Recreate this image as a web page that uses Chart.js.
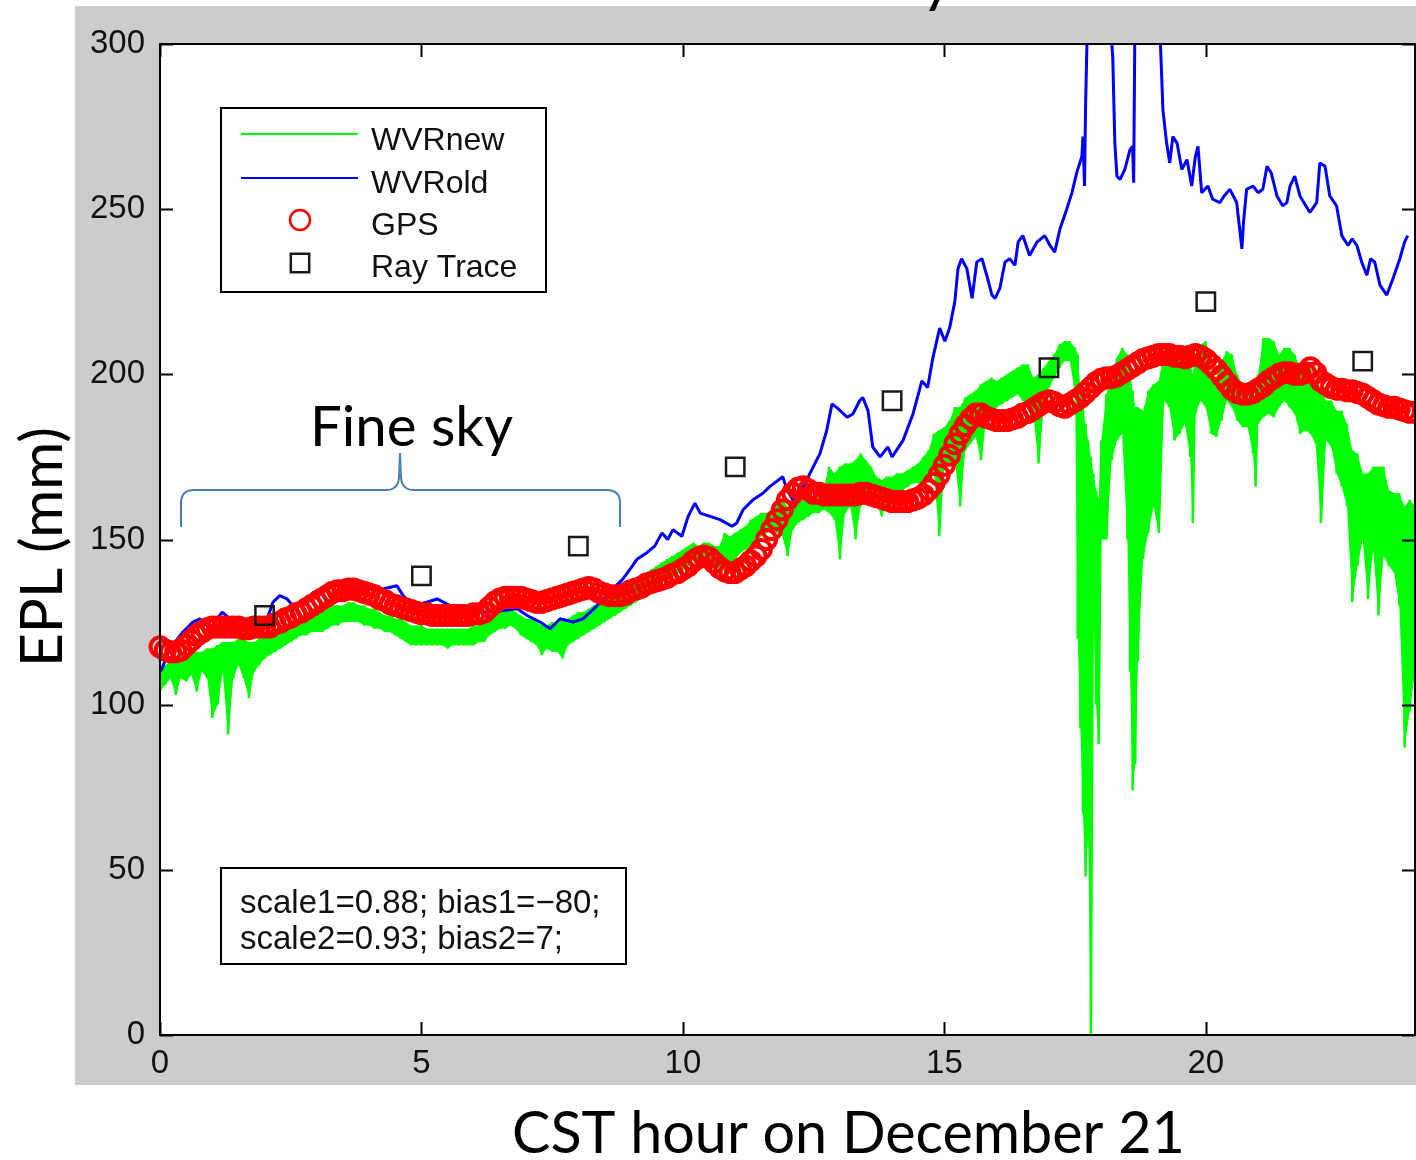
<!DOCTYPE html>
<html>
<head>
<meta charset="utf-8">
<script src="https://cdn.jsdelivr.net/npm/chart.js@4.4.1/dist/chart.umd.min.js"></script>
<style>
html,body{margin:0;padding:0;background:#fff;}
#wrap{width:1416px;height:1160px;position:relative;overflow:hidden;}
canvas{display:block;}
</style>
</head>
<body>
<div id="wrap"><canvas id="c" width="1416" height="1160"></canvas></div>
<script>
// ---------- data ----------
const xTickValues = [0, 5, 10, 15, 20];
const yTickValues = [0, 50, 100, 150, 200, 250, 300];
const seriesNames = ['WVRnew', 'WVRold', 'GPS', 'Ray Trace'];
const xAxisTitle = 'CST hour on December 21';
const yAxisTitle = 'EPL (mm)';
const noteLines = ['scale1=0.88; bias1=\u221280;', 'scale2=0.93; bias2=7;'];
const annotationText = 'Fine sky';

// Ray trace points [hour, EPL]
const rayTrace = [[2,127],[5,139],[8,148],[11,172],[14,192],[17,202],[20,222],[23,204]];

// GPS points [hour, EPL]
const gps = [
[0,117.5],[0.1,116.5],[0.2,116],[0.3,116],[0.4,116.5],[0.5,118],[0.6,119.5],[0.7,121],[0.8,122],[0.9,123],
[1,123.5],[1.1,123.5],[1.2,123.5],[1.3,123.5],[1.4,123.5],[1.5,123.5],[1.6,123],[1.7,123],[1.8,123.5],[1.9,123.5],
[2,123.5],[2.1,123.5],[2.2,124.5],[2.3,125],[2.4,126],[2.5,126.5],[2.6,127.5],[2.7,128],[2.8,129],[2.9,130],
[3,131],[3.1,132],[3.2,133],[3.3,134],[3.4,134.5],[3.5,134.5],[3.6,135],[3.7,135],[3.8,134.5],[3.9,134],
[4,133.5],[4.1,133],[4.2,132],[4.3,131.5],[4.4,130.5],[4.5,130],[4.6,129.5],[4.7,129],[4.8,128.5],[4.9,128],
[5,127.5],[5.1,127.5],[5.2,127],[5.3,127],[5.4,127],[5.5,127],[5.6,127],[5.7,127],[5.8,127],[5.9,127],
[6,127.5],[6.1,127.5],[6.2,128],[6.3,129.5],[6.4,131],[6.5,132],[6.6,132.5],[6.7,132.5],[6.8,132.5],[6.9,132.5],
[7,132],[7.1,131.5],[7.2,131],[7.3,131],[7.4,131.5],[7.5,132],[7.6,132.5],[7.7,133],[7.8,133.5],[7.9,134],
[8,134.5],[8.1,135],[8.2,135.5],[8.3,135],[8.4,134],[8.5,133.5],[8.6,133],[8.7,133],[8.8,133],[8.9,133.5],
[9,134.5],[9.1,135],[9.2,135.5],[9.3,136.5],[9.4,137],[9.5,137.5],[9.6,138],[9.7,138.5],[9.8,139.5],[9.9,140],
[10,141],[10.1,142],[10.2,143.5],[10.3,144.5],[10.4,145],[10.5,144.5],[10.6,143],[10.7,141.5],[10.8,140.5],[10.9,140],
[11,140],[11.1,141],[11.2,142],[11.3,143.5],[11.4,145],[11.5,147],[11.6,150],[11.7,153],[11.8,156],[11.9,159],
[12,162],[12.1,164],[12.2,165.5],[12.3,166],[12.4,165],[12.5,164],[12.6,164],[12.7,163.5],[12.8,163.5],[12.9,163.5],
[13,163.5],[13.1,163.5],[13.2,163.5],[13.3,163.5],[13.4,164],[13.5,164],[13.6,163.5],[13.7,163],[13.8,162.5],[13.9,162],
[14,161.5],[14.1,161.5],[14.2,161.5],[14.3,161.5],[14.4,162],[14.5,162.5],[14.6,163.5],[14.7,165],[14.8,167],[14.9,169.5],
[15,172.5],[15.1,175.5],[15.2,179],[15.3,182],[15.4,184.5],[15.5,186.5],[15.6,188],[15.7,188],[15.8,187],[15.9,186.5],
[16,186],[16.1,186],[16.2,186],[16.3,186.5],[16.4,187],[16.5,188],[16.6,188.5],[16.7,189.5],[16.8,190.5],[16.9,191.5],
[17,192],[17.1,191.5],[17.2,190.5],[17.3,190],[17.4,191],[17.5,192],[17.6,193],[17.7,194.5],[17.8,196],[17.9,197.5],
[18,198.5],[18.1,199],[18.2,199],[18.3,199.5],[18.4,200.5],[18.5,201.5],[18.6,202.5],[18.7,203.5],[18.8,204.5],[18.9,205],
[19,205.5],[19.1,206],[19.2,206],[19.3,206],[19.4,205.5],[19.5,205.5],[19.6,205],[19.7,205.5],[19.8,206],[19.9,205.5],
[20,204.5],[20.1,203],[20.2,201.5],[20.3,199.5],[20.4,197.5],[20.5,195.5],[20.6,194.5],[20.7,194],[20.8,194],[20.9,194.5],
[21,195.5],[21.1,196.5],[21.2,198],[21.3,199],[21.4,200],[21.5,200.5],[21.6,200.5],[21.7,200],[21.8,200],[21.9,200.5],
[22,202],[22.1,200.5],[22.2,198],[22.3,197],[22.4,196],[22.5,195.5],[22.6,195.5],[22.7,195],[22.8,195],[22.9,194.5],
[23,194],[23.1,193],[23.2,192],[23.3,191],[23.4,190.5],[23.5,190],[23.6,190],[23.7,189.5],[23.8,189],[23.9,188.5],[24,188.5]
];

// WVRold trace vertices [hour, EPL]
const wvrOld = [
[0,110],[0.04,111],[0.19,117],[0.44,122],[0.63,125],[0.76,126],[0.96,123],[1.19,128],[1.34,126],[1.47,123],
[1.66,123],[1.85,125],[2.05,126],[2.16,131],[2.29,133],[2.43,132],[2.54,130],[2.73,130],[2.93,134],[3.12,135],
[3.29,136],[3.6,136],[3.9,135],[4.26,135],[4.53,136],[4.65,133],[4.84,130],[5.1,131],[5.3,132],[5.55,130],
[5.9,128],[6.3,128],[6.83,129],[7.02,127],[7.27,125],[7.46,123],[7.65,126],[7.9,125],[8.09,126],[8.36,130],
[8.6,134],[8.85,138],[8.99,141],[9.12,144],[9.31,146],[9.46,148],[9.6,152],[9.71,150],[9.81,153],[9.98,151],
[10.1,157],[10.23,161],[10.33,158],[10.52,157],[10.71,156],[10.94,154],[11.03,155],[11.15,159],[11.34,162],[11.53,164],
[11.66,166],[11.91,169],[11.99,165],[12.1,162],[12.24,164],[12.43,170],[12.62,176],[12.75,183],[12.85,191],[12.94,190],
[13.14,187],[13.25,188],[13.38,192],[13.44,193],[13.54,189],[13.63,178],[13.77,175],[13.92,178],[14,175],[14.21,180],
[14.4,188],[14.57,198],[14.68,196],[14.78,205],[14.91,214],[15.01,210],[15.1,214],[15.2,222],[15.26,232],[15.33,235],
[15.43,232],[15.53,223],[15.62,234],[15.72,235],[15.81,230],[15.91,224],[15.97,223],[16.06,226],[16.16,234],[16.25,235],
[16.35,233],[16.41,240],[16.5,242],[16.63,236],[16.77,240],[16.92,242],[17.02,239],[17.11,237],[17.21,244],[17.34,250],
[17.44,255],[17.53,261],[17.63,266],[17.65,272],[17.68,257],[17.7,281],[17.74,310],[17.9,330],[18.05,330],[18.16,310],
[18.22,296],[18.26,270],[18.3,260],[18.36,259],[18.45,262],[18.55,268],[18.6,269],[18.62,258],[18.65,320],[18.8,330],
[19,330],[19.12,305],[19.18,280],[19.25,270],[19.31,264],[19.37,272],[19.45,270],[19.54,262],[19.64,265],[19.73,257],
[19.8,266],[19.85,269],[19.92,255],[20.04,257],[20.13,253],[20.27,252],[20.35,254],[20.46,256],[20.59,252],[20.69,238],
[20.72,246],[20.78,256],[20.9,257],[21,255],[21.09,256],[21.17,263],[21.25,261],[21.36,254],[21.47,251],[21.55,252],
[21.61,257],[21.7,260],[21.8,254],[21.99,249],[22.12,252],[22.18,264],[22.28,263],[22.37,254],[22.5,251],[22.6,242],
[22.72,239],[22.8,241],[22.89,239],[22.98,234],[23.08,230],[23.15,235],[23.23,234],[23.33,227],[23.46,224],[23.58,229],
[23.71,235],[23.8,240],[23.86,242]
];

// WVRnew noisy trace, read as [hour, highest EPL, lowest EPL] in each short interval
const wvrNew = [
[0,111,104],[0.1,112,106],[0.2,113,108],[0.3,114,103],[0.4,114,108],[0.5,115,107],[0.6,115,109],[0.7,116,104],[0.8,116,110],[0.9,117,108],
[1,117,96],[1.1,118,100],[1.2,119,110],[1.3,119,91],[1.4,119,108],[1.5,120,112],[1.6,120,108],[1.7,119,102],[1.8,119,110],[1.9,120,112],
[2,121,114],[2.1,122,115],[2.2,123,116],[2.3,123,117],[2.4,124,118],[2.5,125,119],[2.6,125,120],[2.7,126,121],[2.8,127,121],[2.9,127,122],
[3,128,122],[3.1,129,122],[3.2,129,123],[3.3,130,124],[3.4,130,124],[3.5,130,125],[3.6,131,125],[3.7,131,125],[3.8,130,125],[3.9,130,124],
[4,129,124],[4.1,129,123],[4.2,128,123],[4.3,127,122],[4.4,127,122],[4.5,126,121],[4.6,126,120],[4.7,125,119],[4.8,124,118],[4.9,124,118],
[5,124,118],[5.1,123,118],[5.2,123,118],[5.3,123,118],[5.4,123,118],[5.5,123,117],[5.6,123,118],[5.7,123,118],[5.8,123,118],[5.9,123,118],
[6,124,118],[6.1,124,119],[6.2,125,119],[6.3,126,121],[6.4,128,122],[6.5,128,123],[6.6,129,123],[6.7,129,124],[6.8,128,123],[6.9,127,121],
[7,126,120],[7.1,126,119],[7.2,125,118],[7.3,124,115],[7.4,124,117],[7.5,125,116],[7.6,125,116],[7.7,126,114],[7.8,126,118],[7.9,127,119],
[8,128,120],[8.1,128,121],[8.2,129,122],[8.3,130,123],[8.4,131,124],[8.5,132,125],[8.6,133,126],[8.7,134,127],[8.8,135,128],[8.9,136,129],
[9,137,130],[9.1,138,131],[9.2,138,132],[9.3,140,133],[9.4,141,135],[9.5,142,136],[9.6,143,137],[9.7,144,138],[9.8,145,139],[9.9,146,140],
[10,147,141],[10.1,148,142],[10.2,149,144],[10.3,148,144],[10.4,149,144],[10.5,149,144],[10.6,148,142],[10.7,148,141],[10.8,152,141],[10.9,151,143],
[11,152,144],[11.1,153,146],[11.2,154,147],[11.3,156,148],[11.4,157,150],[11.5,158,151],[11.6,158,152],[11.7,159,153],[11.8,161,152],[11.9,162,151],
[12,160,145],[12.1,160,153],[12.2,161,155],[12.3,162,156],[12.4,162,157],[12.5,162,158],[12.6,164,158],[12.7,166,159],[12.8,172,158],[12.9,170,156],
[13,172,144],[13.1,173,158],[13.2,173,160],[13.3,174,150],[13.4,176,160],[13.5,174,163],[13.6,172,163],[13.7,169,161],[13.8,168,157],[13.9,169,163],
[14,169,164],[14.1,170,164],[14.2,170,165],[14.3,171,166],[14.4,172,167],[14.5,173,167],[14.6,175,168],[14.7,177,169],[14.8,182,170],[14.9,183,151],
[15,184,172],[15.1,186,173],[15.2,190,174],[15.3,190,160],[15.4,193,177],[15.5,194,179],[15.6,195,181],[15.7,197,174],[15.8,198,186],[15.9,199,189],
[16,198,190],[16.1,199,191],[16.2,200,192],[16.3,201,193],[16.4,202,194],[16.5,203,192],[16.6,203,191],[16.7,199,188],[16.8,200,173],[16.9,202,190],
[17,204,196],[17.1,206,199],[17.2,209,202],[17.3,210,204],[17.4,210,204],[17.5,208,194],[17.55,206,120],[17.6,196,93],[17.65,190,67],[17.7,185,48],
[17.75,180,60],[17.8,175,0],[17.85,170,130],[17.9,165,100],[17.95,162,88],[18,180,150],[18.1,194,150],[18.2,200,174],[18.3,205,180],[18.4,208,182],
[18.5,206,150],[18.55,200,110],[18.6,195,74],[18.65,190,82],[18.7,190,113],[18.8,189,144],[18.9,195,152],[19,197,160],[19.1,198,152],[19.2,207,192],
[19.3,208,190],[19.4,208,180],[19.5,204,182],[19.6,205,185],[19.7,203,175],[19.75,200,155],[19.8,206,188],[19.9,209,192],[20,210,190],[20.1,200,182],
[20.2,199,181],[20.3,204,186],[20.4,207,192],[20.5,206,190],[20.6,200,186],[20.7,197,184],[20.8,197,184],[20.9,195,176],[20.95,192,166],[21,200,185],
[21.1,211,187],[21.2,211,188],[21.3,210,187],[21.4,206,190],[21.5,208,192],[21.6,208,190],[21.7,206,188],[21.8,202,182],[21.9,203,183],[22,202,182],
[22.1,198,179],[22.2,196,155],[22.3,192,180],[22.4,192,178],[22.5,189,170],[22.6,189,166],[22.7,185,160],[22.8,177,131],[22.9,176,142],[23,170,150],
[23.1,170,132],[23.2,172,147],[23.3,172,127],[23.4,172,145],[23.5,165,142],[23.6,164,140],[23.7,164,130],[23.8,160,87],[23.9,162,98],[24,160,110]
];

// ---------- chart ----------
const matlabFont = "'Liberation Sans', Arial, sans-serif";
const slideFont = "Lato, 'Open Sans', sans-serif";
const GREEN = '#00ff00', BLUE = '#0000ff', RED = '#ff0000', BLACK = '#1a1a1a';

function fitFont(ctx, text, family, targetW) {
  ctx.font = '100px ' + family;
  const w = ctx.measureText(text).width;
  return 100 * targetW / w;
}

const decorPlugin = {
  id: 'decor',
  beforeDraw(chart) {
    const { ctx, chartArea: a } = chart;
    ctx.save();
    ctx.fillStyle = '#ffffff';
    ctx.fillRect(0, 0, chart.width, chart.height);
    ctx.fillStyle = '#cccccc';
    ctx.fillRect(a.left - 85, a.top - 38, chart.width - (a.left - 85), (a.bottom + 50) - (a.top - 38));
    ctx.fillStyle = '#ffffff';
    ctx.fillRect(a.left, a.top, a.right - a.left, a.bottom - a.top);
    ctx.restore();
  },
  afterDatasetsDraw(chart) {
    const { ctx, chartArea: a, scales } = chart;
    const xs = scales.x, ys = scales.y;
    ctx.save();
    // axes frame
    ctx.strokeStyle = '#000';
    ctx.lineWidth = 2;
    ctx.strokeRect(a.left, a.top, a.right - a.left, a.bottom - a.top);
    // inward tick marks
    const tl = 13;
    ctx.beginPath();
    xTickValues.forEach(v => {
      const px = Math.round(xs.getPixelForValue(v)) + 0.5;
      ctx.moveTo(px, a.bottom); ctx.lineTo(px, a.bottom - tl);
      ctx.moveTo(px, a.top); ctx.lineTo(px, a.top + tl);
    });
    yTickValues.forEach(v => {
      const py = Math.round(ys.getPixelForValue(v)) + 0.5;
      ctx.moveTo(a.left, py); ctx.lineTo(a.left + tl, py);
      ctx.moveTo(a.right, py); ctx.lineTo(a.right - tl, py);
    });
    ctx.stroke();

    // legend box
    const ds = chart.data.datasets.filter(d => !d.envelope);
    const L = { x: 221, y: 108, w: 325, h: 184 };
    ctx.fillStyle = '#fff';
    ctx.fillRect(L.x, L.y, L.w, L.h);
    ctx.lineWidth = 2;
    ctx.strokeStyle = '#000';
    ctx.strokeRect(L.x, L.y, L.w, L.h);
    const rows = [134, 178, 220, 263];
    const base = [150, 193, 235, 277];
    ctx.font = '32px ' + matlabFont;
    ctx.textAlign = 'left';
    ctx.textBaseline = 'alphabetic';
    ds.forEach((d, i) => {
      const y = rows[i];
      if (d.showLine !== false) {
        ctx.strokeStyle = d.borderColor;
        ctx.lineWidth = 2.2;
        ctx.beginPath(); ctx.moveTo(241, y); ctx.lineTo(358, y); ctx.stroke();
      } else {
        ctx.strokeStyle = d.pointBorderColor;
        ctx.lineWidth = Math.min(d.pointBorderWidth, 2.5);
        ctx.beginPath();
        if (d.pointStyle === 'circle') {
          ctx.arc(300, y, 10, 0, Math.PI * 2);
        } else {
          const s = d.pointRadius * Math.SQRT1_2;
          ctx.rect(300 - s, y - s, 2 * s, 2 * s);
        }
        ctx.stroke();
      }
      ctx.fillStyle = '#111';
      ctx.fillText(d.label, 371, base[i]);
    });

    // parameter box
    const B = { x: 221, y: 868, w: 405, h: 96 };
    ctx.fillStyle = '#fff';
    ctx.fillRect(B.x, B.y, B.w, B.h);
    ctx.strokeStyle = '#000';
    ctx.lineWidth = 2;
    ctx.strokeRect(B.x, B.y, B.w, B.h);
    ctx.fillStyle = '#111';
    ctx.font = '33px ' + matlabFont;
    ctx.fillText(noteLines[0], 240, 913);
    ctx.fillText(noteLines[1], 240, 949);

    // brace for "Fine sky"
    ctx.strokeStyle = '#4a7ebb';
    ctx.lineWidth = 2;
    ctx.beginPath();
    ctx.moveTo(181, 527); ctx.lineTo(181, 503);
    ctx.quadraticCurveTo(181, 490, 194, 490);
    ctx.lineTo(386, 490);
    ctx.quadraticCurveTo(398, 490, 399, 478);
    ctx.lineTo(400, 453);
    ctx.lineTo(401, 478);
    ctx.quadraticCurveTo(402, 490, 414, 490);
    ctx.lineTo(607, 490);
    ctx.quadraticCurveTo(620, 490, 620, 503);
    ctx.lineTo(620, 527);
    ctx.stroke();

    ctx.fillStyle = '#000';
    const fs = fitFont(ctx, annotationText, slideFont, 203);
    ctx.font = fs + 'px ' + slideFont;
    ctx.fillText(annotationText, 310, 446);
    ctx.restore();
  },
  afterDraw(chart) {
    const { ctx } = chart;
    ctx.save();
    ctx.fillStyle = '#000';
    let fs = fitFont(ctx, xAxisTitle, slideFont, 673);
    ctx.font = fs + 'px ' + slideFont;
    ctx.textAlign = 'left';
    ctx.textBaseline = 'alphabetic';
    ctx.fillText(xAxisTitle, 512, 1153);
    fs = fitFont(ctx, yAxisTitle, slideFont, 240);
    ctx.font = fs + 'px ' + slideFont;
    ctx.translate(62, 547);
    ctx.rotate(-Math.PI / 2);
    ctx.textAlign = 'center';
    ctx.fillText(yAxisTitle, 0, 0);
    ctx.restore();
    // descender of the cut-off slide title
    ctx.save();
    ctx.fillStyle = '#000';
    ctx.font = '64px ' + slideFont;
    ctx.textBaseline = 'alphabetic';
    ctx.fillText('y', 921, 0);
    ctx.restore();
  }
};

const ctx = document.getElementById('c').getContext('2d');
const chart = new Chart(ctx, {
  type: 'line',
  data: {
    datasets: [
      {
        label: seriesNames[0] + ' upper', envelope: true,
        data: wvrNew.map(r => ({ x: r[0], y: r[1] })),
        borderColor: 'rgba(0,0,0,0)', borderWidth: 0, pointRadius: 0, tension: 0,
        fill: '+1', backgroundColor: GREEN, order: 6
      },
      {
        label: seriesNames[0] + ' lower', envelope: true,
        data: wvrNew.map(r => ({ x: r[0], y: r[2] })),
        borderColor: 'rgba(0,0,0,0)', borderWidth: 0, pointRadius: 0, tension: 0,
        fill: false, order: 5
      },
      {
        label: seriesNames[0],
        data: wvrNew.flatMap(r => [{ x: r[0], y: r[1] }, { x: r[0], y: r[2] }]),
        borderColor: GREEN, borderWidth: 2.5, pointRadius: 0, tension: 0,
        borderJoinStyle: 'bevel', order: 4
      },
      {
        label: seriesNames[1],
        data: wvrOld.map(r => ({ x: r[0], y: r[1] })),
        borderColor: BLUE, borderWidth: 3, pointRadius: 0, tension: 0,
        borderJoinStyle: 'bevel', order: 3
      },
      {
        label: seriesNames[2],
        data: gps.map(r => ({ x: r[0], y: r[1] })),
        showLine: false, pointStyle: 'circle', pointRadius: 9.5, pointBorderWidth: 4,
        pointBorderColor: RED, pointBackgroundColor: 'rgba(0,0,0,0)',
        borderColor: RED, order: 2, clip: false
      },
      {
        label: seriesNames[3],
        data: rayTrace.map(r => ({ x: r[0], y: r[1] })),
        showLine: false, pointStyle: 'rect', pointRadius: 13, pointBorderWidth: 2.5,
        pointBorderColor: BLACK, pointBackgroundColor: 'rgba(0,0,0,0)',
        borderColor: BLACK, order: 1, clip: false
      }
    ]
  },
  options: {
    responsive: false,
    animation: false,
    devicePixelRatio: 1,
    events: [],
    layout: { autoPadding: false, padding: { left: 75, right: 1, top: 44, bottom: 75 } },
    plugins: { legend: { display: false }, tooltip: { enabled: false }, title: { display: false },
               filler: { propagate: false } },
    scales: {
      x: {
        type: 'linear', min: 0, max: 24,
        afterBuildTicks: s => { s.ticks = xTickValues.map(v => ({ value: v })); },
        afterFit: s => { s.height = 50; s.paddingLeft = 0; s.paddingRight = 0; },
        grid: { display: false, drawTicks: false },
        border: { display: false },
        ticks: { font: { family: matlabFont, size: 33 }, color: '#111', padding: 9, maxRotation: 0, autoSkip: false }
      },
      y: {
        type: 'linear', min: 0, max: 300,
        afterBuildTicks: s => { s.ticks = yTickValues.map(v => ({ value: v })); },
        afterFit: s => { s.width = 85; s.paddingTop = 0; s.paddingBottom = 0; },
        grid: { display: false, drawTicks: false },
        border: { display: false },
        ticks: { font: { family: matlabFont, size: 33 }, color: '#111', padding: 15, autoSkip: false }
      }
    }
  },
  plugins: [decorPlugin]
});
</script>
</body>
</html>
